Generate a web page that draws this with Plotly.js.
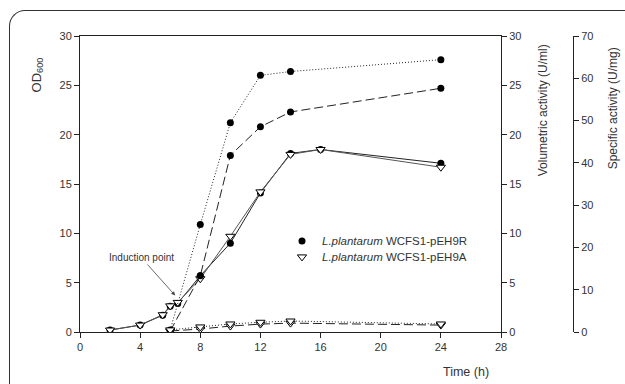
<!DOCTYPE html>
<html><head><meta charset="utf-8">
<script src="https://cdn.plot.ly/plotly-3.0.1.min.js"></script>
<style>
html,body{margin:0;padding:0;background:#fff;overflow:hidden}
#wrap{position:relative;width:625px;height:384px;overflow:hidden}
#chart{width:625px;height:384px}
#frame{position:absolute;left:9px;top:10px;width:700px;height:500px;border-left:1.6px solid #333;border-top:1.6px solid #333;border-top-left-radius:16px;pointer-events:none;box-sizing:border-box}
</style>
</head><body><div id="wrap"><div id="chart"></div><div id="frame"></div></div>
<script>
// Time points (h)
const timeOD = [2, 4, 5.5, 6, 6.5, 8, 10, 12, 14, 16, 24];
const timeAct = [6, 8, 10, 12, 14, 24];
// OD600
const odR = [0.2, 0.7, 1.7, 2.6, 2.9, 5.7, 9.0, 14.1, 18.1, 18.5, 17.1];
const odA = [0.2, 0.7, 1.75, 2.65, 3.0, 5.4, 9.7, 14.2, 18.0, 18.5, 16.7];
// Volumetric activity (U/ml)
const volR = [0.1, 5.7, 17.9, 20.8, 22.3, 24.7];
const volA = [0.1, 0.3, 0.6, 0.8, 0.9, 0.7];
// Specific activity (U/mg)
const specR = [0.5, 25.4, 49.5, 60.7, 61.6, 64.4];
const specA = [0.5, 1.2, 1.9, 2.3, 2.6, 1.9];
// Tick values
const xTicks = [0, 4, 8, 12, 16, 20, 24, 28];
const odTicks = [0, 5, 10, 15, 20, 25, 30];
const volTicks = [0, 5, 10, 15, 20, 25, 30];
const specTicks = [0, 10, 20, 30, 40, 50, 60, 70];
const nameR = '<i>L.plantarum</i> WCFS1-pEH9R';
const nameA = '<i>L.plantarum</i> WCFS1-pEH9A';

const L = 80, R = 501, T = 35.5, B = 332.3;
const px = x => (x - L) / (R - L);
const py = y => (B - y) / (B - T);
const ink = '#222';
const txt = '#333';
const FONT = 'Liberation Sans, Arial, sans-serif';

const circ = {symbol: 'circle', size: 7, color: '#000', line: {width: 0}};
const tri = {symbol: 'triangle-down', size: 8, color: '#fff', line: {width: 1, color: '#000'}};

const traces = [
  {x: timeAct, y: specR, yaxis: 'y3', mode: 'lines+markers', line: {color: ink, width: 1, dash: '1px,2px'}, marker: circ, showlegend: false},
  {x: timeAct, y: volR, yaxis: 'y2', mode: 'lines+markers', line: {color: ink, width: 1, dash: '9px,4px'}, marker: circ, showlegend: false},
  {x: timeOD, y: odR, mode: 'lines+markers', line: {color: ink, width: 1}, marker: circ, showlegend: false},
  {x: timeAct, y: specA, yaxis: 'y3', mode: 'lines+markers', line: {color: ink, width: 1, dash: '1px,2px'}, marker: tri, showlegend: false},
  {x: timeAct, y: volA, yaxis: 'y2', mode: 'lines+markers', line: {color: ink, width: 1, dash: '9px,4px'}, marker: tri, showlegend: false},
  {x: timeOD, y: odA, mode: 'lines+markers', line: {color: '#555', width: 1}, marker: tri, showlegend: false},
  {x: [null], y: [null], mode: 'markers', marker: circ, name: nameR, legend: 'legend', showlegend: true},
  {x: [null], y: [null], mode: 'markers', marker: tri, name: nameA, legend: 'legend2', showlegend: true}
];

const axFont = {family: FONT, size: 11, color: txt};
const commonY = {showgrid: false, zeroline: false, showline: true, linecolor: ink, linewidth: 1,
  ticks: 'outside', ticklen: 5, tickcolor: ink, tickfont: axFont, fixedrange: true};

const layout = {
  width: 625, height: 384,
  margin: {l: L, r: 625 - R, t: T, b: 384 - B, pad: 0},
  paper_bgcolor: '#fff', plot_bgcolor: '#fff',
  font: {family: FONT, color: txt},
  xaxis: {range: [0, 28], tickvals: xTicks, showgrid: false, zeroline: false, showline: true, mirror: true,
    linecolor: ink, linewidth: 1, ticks: 'outside', ticklen: 5, tickcolor: ink, tickfont: axFont, fixedrange: true},
  yaxis: Object.assign({}, commonY, {range: [0, 30], tickvals: odTicks}),
  yaxis2: Object.assign({}, commonY, {range: [0, 30], tickvals: volTicks, overlaying: 'y', side: 'right', anchor: 'x'}),
  yaxis3: Object.assign({}, commonY, {range: [0, 70], tickvals: specTicks, overlaying: 'y', side: 'right',
    anchor: 'free', position: 1, autoshift: false, shift: 72}),
  legend: {x: px(282), y: py(241), xanchor: 'left', yanchor: 'middle', bgcolor: 'rgba(0,0,0,0)',
    font: {family: FONT, size: 11.5, color: txt}, borderwidth: 0},
  legend2: {x: px(282), y: py(257), xanchor: 'left', yanchor: 'middle', bgcolor: 'rgba(0,0,0,0)',
    font: {family: FONT, size: 11.5, color: txt}, borderwidth: 0},
  annotations: [
    {xref: 'paper', yref: 'paper', x: px(37), y: py(75), text: 'OD<sub>600</sub>', textangle: -90, showarrow: false,
      font: {family: FONT, size: 13, color: txt}, xanchor: 'center', yanchor: 'middle'},
    {xref: 'paper', yref: 'paper', x: px(543), y: py(110), text: 'Volumetric activity (U/ml)', textangle: -90, showarrow: false,
      font: {family: FONT, size: 12, color: txt}, xanchor: 'center', yanchor: 'middle'},
    {xref: 'paper', yref: 'paper', x: px(613), y: py(108), text: 'Specific activity (U/mg)', textangle: -90, showarrow: false,
      font: {family: FONT, size: 12, color: txt}, xanchor: 'center', yanchor: 'middle'},
    {xref: 'paper', yref: 'paper', x: px(466), y: py(372), text: 'Time (h)', showarrow: false,
      font: {family: FONT, size: 12.5, color: txt}, xanchor: 'center', yanchor: 'middle'},
    {xref: 'x', yref: 'y', x: 6.33, y: 3.7, text: 'Induction point', showarrow: true, arrowhead: 2, arrowsize: 1,
      arrowwidth: 0.8, arrowcolor: '#444', ax: -34, ay: -38, font: {family: FONT, size: 10, color: txt}}
  ]
};

Plotly.newPlot('chart', traces, layout, {displayModeBar: false, staticPlot: true});
</script></body></html>
